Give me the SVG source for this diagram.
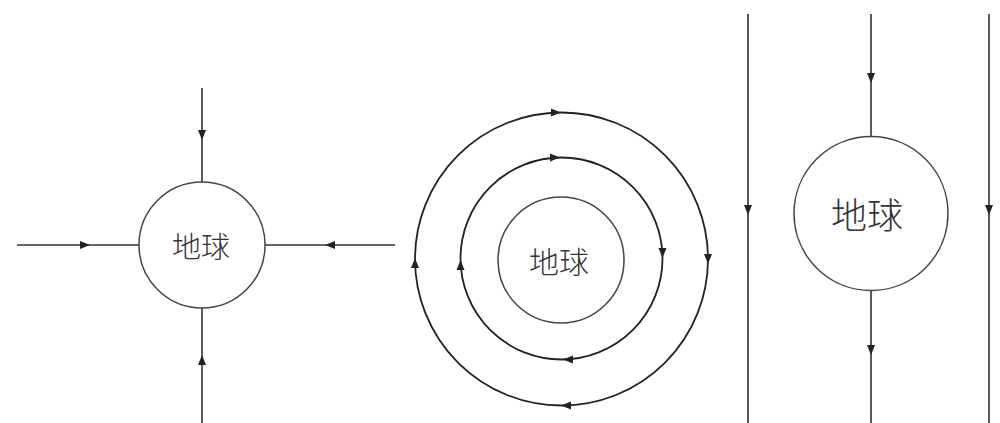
<svg xmlns="http://www.w3.org/2000/svg" xmlns:xlink="http://www.w3.org/1999/xlink" width="1000" height="423" viewBox="0 0 1000 423">
<style>
.ln{stroke:#333;stroke-width:1.6;fill:none}
.cir{stroke:#444;stroke-width:1.5;fill:#fff}
.orb{stroke:#222;stroke-width:1.8;fill:none}
.lbl{font-family:"Noto Sans CJK SC","Noto Sans CJK JP",sans-serif;fill:#333;text-anchor:middle;dominant-baseline:central;font-weight:300}
</style>
<defs>
<path id="ah" d="M5,0 L-5,-4 L-5,4 Z" fill="#222"/>
</defs>
<rect width="1000" height="423" fill="#fff"/>
<g id="connectors">
<line class="ln" x1="202" y1="88" x2="202" y2="182"/>
<line class="ln" x1="202" y1="308" x2="202" y2="423"/>
<line class="ln" x1="17" y1="245" x2="140" y2="245"/>
<line class="ln" x1="264" y1="245" x2="395" y2="245"/>
<use xlink:href="#ah" transform="translate(202,135) rotate(90)"/>
<use xlink:href="#ah" transform="translate(202,360) rotate(-90)"/>
<use xlink:href="#ah" transform="translate(85,245)"/>
<use xlink:href="#ah" transform="translate(330,245) rotate(180)"/>
<circle class="orb" cx="561.5" cy="259" r="146.5"/>
<circle class="orb" cx="561.5" cy="258.5" r="101"/>
<use xlink:href="#ah" transform="translate(556,112.5)"/>
<use xlink:href="#ah" transform="translate(708,259) rotate(90)"/>
<use xlink:href="#ah" transform="translate(566,405.5) rotate(180)"/>
<use xlink:href="#ah" transform="translate(415,263) rotate(-90)"/>
<use xlink:href="#ah" transform="translate(555,157.5)"/>
<use xlink:href="#ah" transform="translate(662.5,253) rotate(90)"/>
<use xlink:href="#ah" transform="translate(568,359.5) rotate(180)"/>
<use xlink:href="#ah" transform="translate(460.5,265) rotate(-90)"/>
<line class="ln" x1="748" y1="14" x2="748" y2="423"/>
<line class="ln" x1="989" y1="14" x2="989" y2="423"/>
<line class="ln" x1="871" y1="14" x2="871" y2="138"/>
<line class="ln" x1="871" y1="289" x2="871" y2="423"/>
<use xlink:href="#ah" transform="translate(748,210) rotate(90)"/>
<use xlink:href="#ah" transform="translate(989,210) rotate(90)"/>
<use xlink:href="#ah" transform="translate(871,78) rotate(90)"/>
<use xlink:href="#ah" transform="translate(871,350) rotate(90)"/>
</g>
<g id="earth1">
<circle class="cir" cx="202" cy="245" r="63"/>
<text class="lbl" x="201" y="245" font-size="29">地球</text>
</g>
<g id="earth2">
<circle class="cir" cx="561" cy="260" r="63"/>
<text class="lbl" x="559" y="260" font-size="30">地球</text>
</g>
<g id="earth3">
<circle class="cir" cx="871" cy="213.5" r="77"/>
<text class="lbl" x="867" y="213" font-size="36">地球</text>
</g>
</svg>
